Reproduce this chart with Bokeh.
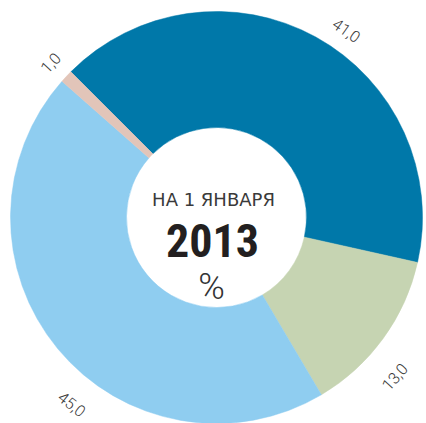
import math
from bokeh.plotting import figure
from bokeh.models import ColumnDataSource, Range1d
from bokeh.core.properties import value
from bokeh.embed import file_html
from bokeh.resources import INLINE

# data
values = [41.0, 13.0, 45.0, 1.0]
labels = ["41,0", "13,0", "45,0", "1,0"]
colors = ["#0078A9", "#C6D4B2", "#8FCDF0", "#E2C5B9"]
title_top = "НА 1 ЯНВАРЯ"
title_year = "2013"
title_unit = "%"

# layout
W, H = 426, 423
cx, cy = 216, H - 217
R_out, R_in = 206, 90
start_deg = 135.0
label_shift_deg = [-6.0, -5.8, 12.6, 0.2]
label_r = [228, 239, 236, 227]

total = sum(values)
starts, ends, lx, ly, lang = [], [], [], [], []
cum = 0.0
for i, v in enumerate(values):
    a0 = start_deg - cum / total * 360.0
    cum += v
    a1 = start_deg - cum / total * 360.0
    starts.append(math.radians(a0))
    ends.append(math.radians(a1))
    mid = (a0 + a1) / 2.0
    mid = ((mid + 180) % 360) - 180
    th = mid + label_shift_deg[i]
    lx.append(cx + label_r[i] * math.cos(math.radians(th)))
    ly.append(cy + label_r[i] * math.sin(math.radians(th)))
    rot = th - 90 if math.sin(math.radians(th)) > 0 else th + 90
    lang.append(math.radians(rot))

src = ColumnDataSource(dict(start=starts, end=ends, color=colors,
                            lx=lx, ly=ly, lang=lang, label=labels))

p = figure(width=W, height=H, output_backend="svg", toolbar_location=None,
           x_range=Range1d(0, W), y_range=Range1d(0, H), min_border=0)
p.axis.visible = False
p.grid.visible = False
p.outline_line_color = None
p.background_fill_color = "white"

p.annular_wedge(x=cx, y=cy, inner_radius=R_in, outer_radius=R_out,
                start_angle="start", end_angle="end", direction="clock",
                fill_color="color", line_color="color", line_width=0.5, source=src)

p.text(x="lx", y="ly", text="label", angle="lang", source=src,
       text_font=value("Roboto Light"), text_font_size="16px", text_color="#3a3a3a",
       text_align="center", text_baseline="middle")

p.text(x=[213], y=[H - 199], text=[title_top], text_font=value("DejaVu Sans"),
       text_font_size="18px", text_color="#3a3a3a",
       text_align="center", text_baseline="middle")
p.text(x=[212], y=[H - 240], text=[title_year],
       text_font=value("Roboto Condensed"),
       text_font_size="46px", text_font_style="bold", text_color="#231F20",
       text_align="center", text_baseline="middle")
p.text(x=[211], y=[H - 286], text=[title_unit], text_font=value("Roboto Light"),
       text_font_size="36px", text_color="#333333",
       text_align="center", text_baseline="middle")

open("out.html", "w").write(file_html(p, INLINE))
